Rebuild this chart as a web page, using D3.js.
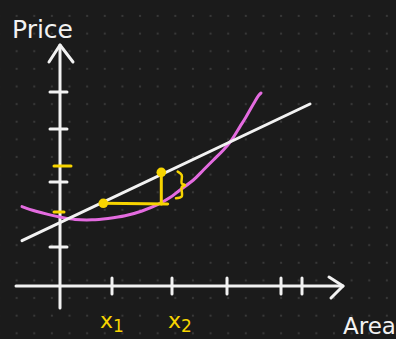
<!DOCTYPE html>
<html>
<head>
<meta charset="utf-8">
<script src="https://cdn.jsdelivr.net/npm/d3@7"></script>
<style>
  html, body { margin: 0; padding: 0; background: #1b1b1b; overflow: hidden; }
</style>
</head>
<body>
<svg id="chart"></svg>
<script>
// Values, in axis units (origin = where the two axes cross)
const xAxisRange = [-2.2, 14.15];
const yAxisRange = [-1.1, 12.05];
const xTicks = [2.6, 5.6, 8.35, 11.05, 12.1];
const yTicksWhite = [9.7, 7.85, 5.2, 1.95];
const yTicksYellow = [6.0, 3.7];

// straight fitted line
const fitX = [-1.9, 12.5];
const fitY = [2.27, 9.1];

// pink hand-drawn curve
const curveX = [-1.9, -1.25, -0.6, 0.1, 0.75, 1.6, 2.4, 3.25, 4.1, 4.9, 5.5, 6.0, 6.67, 7.17, 7.67, 8.17, 8.58, 9.0, 9.3, 9.7, 9.95, 10.05];
const curveY = [3.97, 3.75, 3.58, 3.43, 3.33, 3.31, 3.38, 3.51, 3.75, 4.08, 4.42, 4.8, 5.3, 5.8, 6.3, 6.8, 7.3, 7.97, 8.45, 9.15, 9.55, 9.65];

// the two yellow points on the line and the step between them
const pointX = [2.165, 5.065];
const pointY = [4.135, 5.685];
const stepEndX = 5.385;
const stepY = 4.1;

// the "}" brace next to the step
const braceX = [5.885, 6.085, 6.085, 6.25, 6.085, 6.085, 5.8];
const braceY = [5.72, 5.55, 5.135, 5.05, 4.95, 4.47, 4.39];

const xLabels = [{ base: "x", sub: "1", at: 2.6 }, { base: "x", sub: "2", at: 6.0 }];

const width = 396;
const height = 339;
const white = "#f2f2f2";
const yellow = "#f7d400";
const pink = "#e46be0";

const svg = d3.select("#chart")
  .attr("width", width)
  .attr("height", height)
  .attr("viewBox", [0, 0, width, height]);

// dotted paper background
const defs = svg.append("defs");
const pattern = defs.append("pattern")
  .attr("id", "dots")
  .attr("patternUnits", "userSpaceOnUse")
  .attr("x", -1 - 8.8)
  .attr("y", -1.6 - 8.8)
  .attr("width", 17.63)
  .attr("height", 17.63);
pattern.append("circle")
  .attr("cx", 8.8)
  .attr("cy", 8.8)
  .attr("r", 1.1)
  .attr("fill", "#3a3a3a");

svg.append("rect")
  .attr("width", width)
  .attr("height", height)
  .attr("fill", "#1b1b1b");
svg.append("rect")
  .attr("width", width)
  .attr("height", height)
  .attr("fill", "url(#dots)");

// 20px per unit, origin at (60, 286)
const x = d3.scaleLinear().domain([0, 14]).range([60, 340]);
const y = d3.scaleLinear().domain([0, 12]).range([286, 46]);

const g = svg.append("g")
  .attr("fill", "none")
  .attr("stroke-linecap", "round")
  .attr("stroke-linejoin", "round");

const line = d3.line().x(d => x(d[0])).y(d => y(d[1]));
const smooth = d3.line().x(d => x(d[0])).y(d => y(d[1])).curve(d3.curveCatmullRom);

// axes
g.append("path")
  .attr("d", line([[xAxisRange[0], 0], [xAxisRange[1], 0]]))
  .attr("stroke", white).attr("stroke-width", 3);
g.append("path")
  .attr("d", line([[xAxisRange[1] - 0.7, 0.45], [xAxisRange[1], 0], [xAxisRange[1] - 0.6, -0.6]]))
  .attr("stroke", white).attr("stroke-width", 3);
g.append("path")
  .attr("d", line([[0, yAxisRange[0]], [0, yAxisRange[1]]]))
  .attr("stroke", white).attr("stroke-width", 3);
g.append("path")
  .attr("d", line([[-0.55, yAxisRange[1] - 0.85], [0, yAxisRange[1]], [0.65, yAxisRange[1] - 0.85]]))
  .attr("stroke", white).attr("stroke-width", 3);

// x ticks
g.selectAll(".xtick")
  .data(xTicks)
  .join("line")
  .attr("x1", d => x(d)).attr("x2", d => x(d))
  .attr("y1", y(0) - 8).attr("y2", y(0) + 8)
  .attr("stroke", white).attr("stroke-width", 3);

// y ticks
g.selectAll(".ytick")
  .data(yTicksWhite)
  .join("line")
  .attr("x1", x(0) - 10).attr("x2", x(0) + 7)
  .attr("y1", d => y(d)).attr("y2", d => y(d))
  .attr("stroke", white).attr("stroke-width", 3);
g.selectAll(".ytickY")
  .data(yTicksYellow)
  .join("line")
  .attr("x1", x(0) - 6).attr("x2", (d, i) => x(0) + (i === 0 ? 11 : 4))
  .attr("y1", d => y(d)).attr("y2", d => y(d))
  .attr("stroke", yellow).attr("stroke-width", 3);

// pink curve
g.append("path")
  .attr("d", smooth(curveX.map((v, i) => [v, curveY[i]])))
  .attr("stroke", pink).attr("stroke-width", 3);

// fitted straight line
g.append("path")
  .attr("d", line(fitX.map((v, i) => [v, fitY[i]])))
  .attr("stroke", white).attr("stroke-width", 3);

// yellow step
g.append("path")
  .attr("d", line([[pointX[0], pointY[0]], [stepEndX, stepY]]))
  .attr("stroke", yellow).attr("stroke-width", 3);
g.append("path")
  .attr("d", line([[pointX[1], pointY[1]], [pointX[1], stepY]]))
  .attr("stroke", yellow).attr("stroke-width", 3);
g.append("path")
  .attr("d", smooth(braceX.map((v, i) => [v, braceY[i]])))
  .attr("stroke", yellow).attr("stroke-width", 2.5);

svg.selectAll(".pt")
  .data(pointX)
  .join("circle")
  .attr("cx", d => x(d))
  .attr("cy", (d, i) => y(pointY[i]))
  .attr("r", 4.8)
  .attr("fill", yellow);

// labels
svg.append("text")
  .attr("x", 12).attr("y", 38)
  .attr("fill", white)
  .style("font-family", "'DejaVu Sans', sans-serif")
  .style("font-size", "25px")
  .text("Price");

svg.append("text")
  .attr("x", 343).attr("y", 334)
  .attr("fill", white)
  .style("font-family", "'DejaVu Sans', sans-serif")
  .style("font-size", "23px")
  .text("Area");

const lab = svg.selectAll(".xl")
  .data(xLabels)
  .join("text")
  .attr("x", d => x(d.at))
  .attr("y", 328)
  .attr("text-anchor", "middle")
  .attr("fill", yellow)
  .style("font-family", "'DejaVu Sans', sans-serif")
  .style("font-size", "22px");
lab.append("tspan").text(d => d.base);
lab.append("tspan")
  .attr("dy", 4)
  .style("font-size", "17px")
  .text(d => d.sub);
</script>
</body>
</html>
